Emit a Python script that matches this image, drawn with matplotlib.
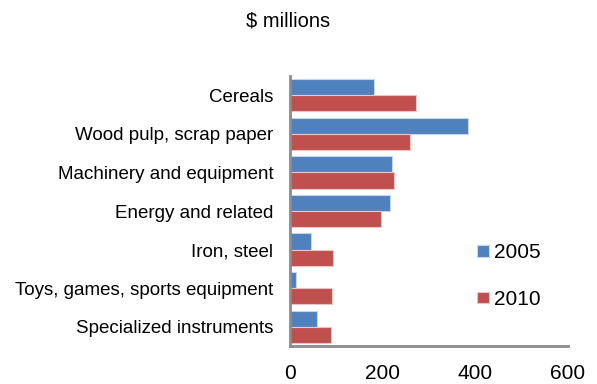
import numpy as np
import matplotlib.pyplot as plt

plt.rcParams['font.family'] = ['Liberation Sans', 'DejaVu Sans']

categories = ["Cereals", "Wood pulp, scrap paper", "Machinery and equipment",
              "Energy and related", "Iron, steel",
              "Toys, games, sports equipment", "Specialized instruments"]
values_2005 = [182, 385, 221, 216, 46, 14, 58]
values_2010 = [273, 259, 225, 197, 92, 91, 88]
xticks = [0, 200, 400, 600]

fig = plt.figure(figsize=(5.97, 3.84), dpi=100)
ax = fig.add_axes([290 / 597, 1 - 346 / 384, 278 / 597, 270 / 384])

y = np.arange(len(categories))
h = 0.42
b1 = ax.barh(y - h / 2, values_2005, height=h, color="#4f81bd",
             edgecolor="#c5d5ea", linewidth=0.8, label="2005")
b2 = ax.barh(y + h / 2, values_2010, height=h, color="#c0504d",
             edgecolor="#ecc4c3", linewidth=0.8, label="2010")

ax.set_ylim(len(categories) - 0.5, -0.5)
ax.set_xlim(0, 600)
ax.set_yticks(y)
ax.set_yticklabels(categories, fontsize=13.5)
ax.set_xticks(xticks)
ax.set_xticklabels([str(t) for t in xticks], fontsize=15)
ax.tick_params(axis="y", length=0, pad=12)
ax.tick_params(axis="x", length=0, pad=13)

for s in ["top", "right"]:
    ax.spines[s].set_visible(False)
for s in ["left", "bottom"]:
    ax.spines[s].set_color("#8c8c8c")
    ax.spines[s].set_linewidth(2)

leg = fig.legend(handles=[b1, b2], loc="center left",
                 bbox_to_anchor=(467 / 597, 1 - 276 / 384),
                 frameon=False, fontsize=15, labelspacing=1.3, borderpad=0,
                 handlelength=0.55, handleheight=0.45, handletextpad=0.25)

fig.text(288 / 597, 1 - 21 / 384, "$ millions", ha="center", va="center", fontsize=14.5)

fig.savefig("out.png", dpi=100)
